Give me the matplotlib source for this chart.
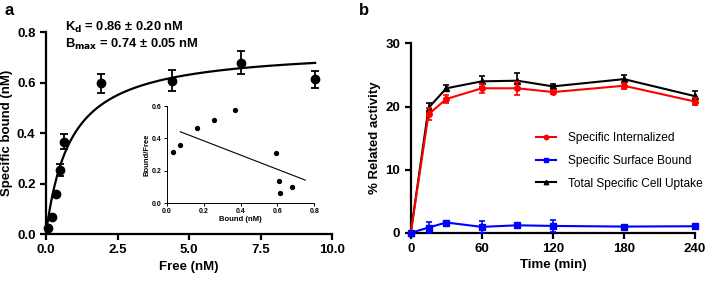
import matplotlib
matplotlib.use("Agg")
import matplotlib.pyplot as plt
import numpy as np

plt.rcParams["font.family"] = ["Liberation Sans", "DejaVu Sans"]
plt.rcParams["font.weight"] = "bold"

# panel a: saturation binding
free_nm = [0.08, 0.20, 0.35, 0.50, 0.64, 1.91, 4.39, 6.81, 9.39]
bound_nm = [0.025, 0.068, 0.160, 0.254, 0.366, 0.597, 0.608, 0.679, 0.613]
bound_err = [0.0, 0.0, 0.0, 0.025, 0.030, 0.038, 0.040, 0.045, 0.033]
KD = 0.86
BMAX = 0.74

# inset: Scatchard
sc_bound = [0.032, 0.074, 0.166, 0.256, 0.372, 0.594, 0.607, 0.614, 0.679]
sc_ratio = [0.313, 0.361, 0.464, 0.511, 0.573, 0.311, 0.138, 0.064, 0.099]
sc_fit_x = [0.074, 0.751]
sc_fit_y = [0.441, 0.142]

# panel b: uptake kinetics
time_min = [0, 15, 30, 60, 90, 120, 180, 240]
internalized = [0.0, 18.8, 21.2, 22.9, 22.9, 22.3, 23.3, 20.8]
internalized_err = [0.0, 1.0, 0.6, 0.7, 1.0, 0.3, 0.5, 0.6]
surface = [0.0, 0.85, 1.64, 0.95, 1.2, 1.1, 1.0, 1.05]
surface_err = [0.0, 0.8, 0.2, 0.9, 0.3, 0.9, 0.2, 0.3]
total = [0.0, 19.8, 22.9, 24.0, 24.1, 23.2, 24.35, 21.65]
total_err = [0.0, 0.8, 0.5, 0.9, 1.2, 0.3, 0.6, 0.8]


def style(ax, lw=1.6, size=9.5):
    for s in ("top", "right"):
        ax.spines[s].set_visible(False)
    for s in ("left", "bottom"):
        ax.spines[s].set_linewidth(lw)
    ax.tick_params(width=lw, length=4, labelsize=size, direction="out")
    for t in ax.get_xticklabels() + ax.get_yticklabels():
        t.set_fontweight("bold")


fig = plt.figure(figsize=(7.07, 2.84), dpi=100)

# ---- a
ax = fig.add_axes([0.065, 0.176, 0.405, 0.711])
ax.errorbar(free_nm, bound_nm, yerr=bound_err, fmt="o", color="black", ms=6,
            capsize=3, elinewidth=1.3, capthick=1.3, zorder=3, clip_on=False)
xs = np.linspace(0, 9.4, 200)
ax.plot(xs, BMAX * xs / (KD + xs), color="black", lw=1.6)
ax.set_xlim(0, 10)
ax.set_ylim(0, 0.8)
ax.set_xticks([0, 2.5, 5, 7.5, 10])
ax.set_xticklabels(["0.0", "2.5", "5.0", "7.5", "10.0"])
ax.set_yticks([0, 0.2, 0.4, 0.6, 0.8])
ax.set_yticklabels(["0.0", "0.2", "0.4", "0.6", "0.8"])
style(ax)
ax.set_xlabel("Free (nM)", fontsize=9.5, fontweight="bold", labelpad=3)
ax.set_ylabel("Specific bound (nM)", fontsize=9.5, fontweight="bold", labelpad=3)
fig.text(0.092, 0.903, r"K$_\mathbf{d}$ = 0.86 ± 0.20 nM", fontsize=9.3, fontweight="bold",
         va="center")
fig.text(0.092, 0.845, r"B$_\mathbf{max}$ = 0.74 ± 0.05 nM", fontsize=9.3, fontweight="bold",
         va="center")
fig.text(0.006, 0.99, "a", fontsize=12, fontweight="bold", va="top")

# inset
axi = fig.add_axes([0.2358, 0.285, 0.2088, 0.3415])
axi.plot(sc_bound, sc_ratio, "o", color="black", ms=2.8)
axi.plot(sc_fit_x, sc_fit_y, color="black", lw=0.8)
axi.set_xlim(0, 0.8)
axi.set_ylim(0, 0.6)
axi.set_xticks([0, 0.2, 0.4, 0.6, 0.8])
axi.set_xticklabels(["0.0", "0.2", "0.4", "0.6", "0.8"])
axi.set_yticks([0, 0.2, 0.4, 0.6])
axi.set_yticklabels(["0.0", "0.2", "0.4", "0.6"])
style(axi, lw=0.7, size=5)
axi.tick_params(length=2, pad=1.5)
axi.set_xlabel("Bound (nM)", fontsize=5.5, fontweight="bold", labelpad=1)
axi.set_ylabel("Bound/Free", fontsize=5.5, fontweight="bold", labelpad=1)
axi.patch.set_alpha(0)

# ---- b
bx = fig.add_axes([0.581, 0.18, 0.402, 0.667])
kw = dict(capsize=2.5, elinewidth=1.2, capthick=1.2, lw=1.5, ms=4, clip_on=False)
e1 = bx.errorbar(time_min, internalized, yerr=internalized_err, fmt="-o", color="#ff0000",
                 zorder=3, **kw)
e2 = bx.errorbar(time_min, surface, yerr=surface_err, fmt="-s", color="#0000ff",
                 zorder=3, **kw)
e3 = bx.errorbar(time_min, total, yerr=total_err, fmt="-^", color="black",
                 zorder=2, **kw)
bx.set_xlim(0, 240)
bx.set_ylim(0, 30)
bx.set_xticks([0, 60, 120, 180, 240])
bx.set_yticks([0, 10, 20, 30])
style(bx)
bx.set_xlabel("Time (min)", fontsize=9.5, fontweight="bold", labelpad=3)
bx.set_ylabel("% Related activity", fontsize=9.5, fontweight="bold", labelpad=3)
bx.legend([e1[0], e2[0], e3[0]],
          ["Specific Internalized", "Specific Surface Bound", "Total Specific Cell Uptake"],
          loc="upper left", bbox_to_anchor=(0.758, 0.535), bbox_transform=fig.transFigure,
          frameon=False, borderpad=0, borderaxespad=0, markerscale=0.8,
          prop={"size": 8.6, "weight": "normal"}, handlelength=1.7,
          labelspacing=0.9, handletextpad=1.0)
fig.text(0.508, 0.99, "b", fontsize=12, fontweight="bold", va="top")

fig.savefig("out.png", dpi=100)
